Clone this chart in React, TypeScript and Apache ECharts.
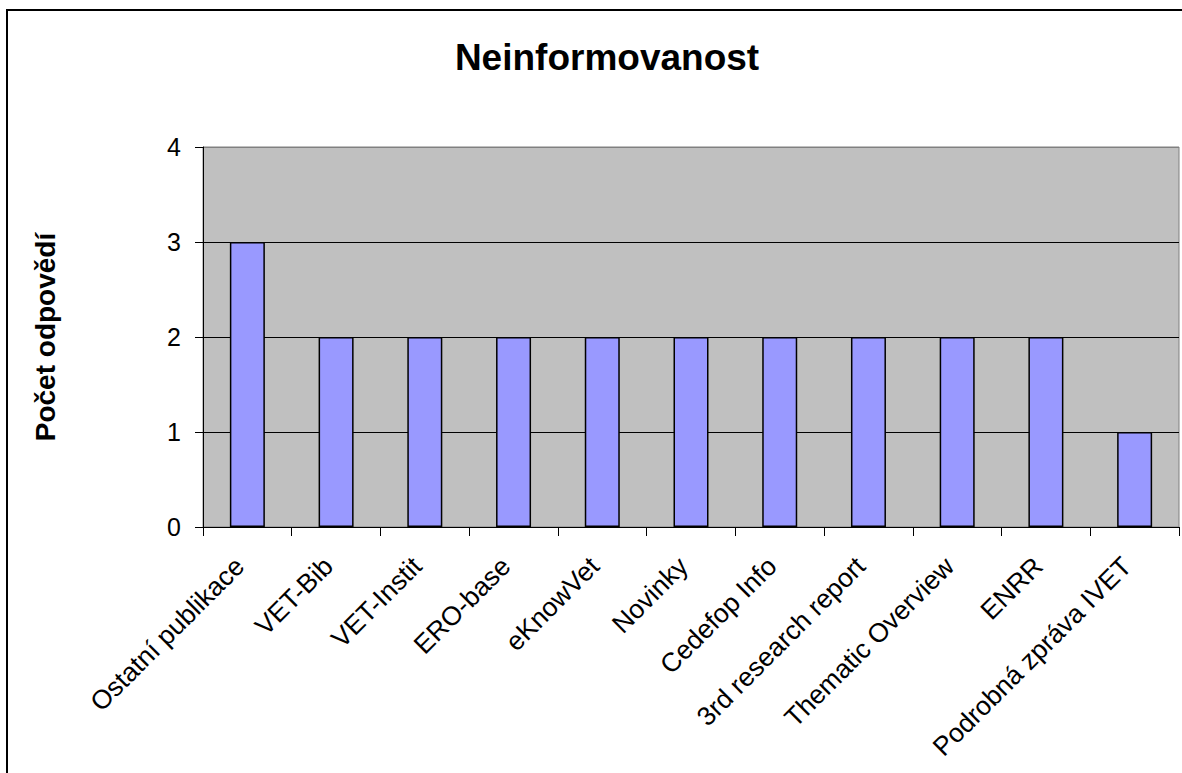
import React, { useEffect, useRef } from "react";
import * as echarts from "echarts";

const categories = [
  "Ostatní publikace",
  "VET-Bib",
  "VET-Instit",
  "ERO-base",
  "eKnowVet",
  "Novinky",
  "Cedefop Info",
  "3rd research report",
  "Thematic Overview",
  "ENRR",
  "Podrobná zpráva IVET",
];
const values = [3, 2, 2, 2, 2, 2, 2, 2, 2, 2, 1];
const titleText = "Neinformovanost";
const yAxisName = "Počet odpovědí";

const FONT = "'Liberation Sans', Arial, Helvetica, sans-serif";

export default function App() {
  const ref = useRef<HTMLDivElement>(null);
  useEffect(() => {
    if (!ref.current) return;
    const chart = echarts.init(ref.current, null, { renderer: "svg" });
    chart.setOption({
      animation: false,
      backgroundColor: "#ffffff",
      title: {
        text: titleText,
        left: 602,
        top: 34,
        textAlign: "center",
        textStyle: { fontFamily: FONT, fontSize: 37, fontWeight: "bold", color: "#000" },
      },
      graphic: [
        {
          type: "rect",
          shape: { x: 7, y: 10, width: 1220, height: 820 },
          style: { fill: "none", stroke: "#000", lineWidth: 2 },
          silent: true,
        },
      ],
      grid: {
        left: 203,
        right: 3,
        top: 147,
        bottom: 246,
        show: true,
        backgroundColor: "#c0c0c0",
        borderColor: "#808080",
        borderWidth: 1,
      },
      xAxis: {
        type: "category",
        data: categories,
        axisLine: { show: true, lineStyle: { color: "#000", width: 1 } },
        axisTick: { show: true, length: 9, lineStyle: { color: "#000" } },
        axisLabel: {
          interval: 0,
          rotate: 45,
          margin: 27,
          padding: [0, 11, 0, 0],
          fontFamily: FONT,
          fontSize: 26.5,
          color: "#000",
        },
        splitLine: { show: false },
      },
      yAxis: {
        type: "value",
        min: 0,
        max: 4,
        interval: 1,
        name: yAxisName,
        nameLocation: "middle",
        nameRotate: 90,
        nameGap: 144,
        nameTextStyle: { fontFamily: FONT, fontSize: 28, fontWeight: "bold", color: "#000" },
        axisLine: { show: true, lineStyle: { color: "#000", width: 1 } },
        axisTick: { show: true, length: 8, lineStyle: { color: "#000" } },
        axisLabel: { margin: 22, fontFamily: FONT, fontSize: 25, color: "#000" },
        splitLine: { show: true, lineStyle: { color: ["#000", "#000", "#000", "#000", "#808080"], width: 1 } },
      },
      series: [
        {
          type: "bar",
          data: values,
          barWidth: 35,
          itemStyle: { color: "#9999ff", borderColor: "#000", borderWidth: 1.5 },
        },
      ],
    });
    return () => chart.dispose();
  }, []);
  return (
    <div
      ref={ref}
      style={{ position: "absolute", left: 0, top: 0, width: 1182, height: 773 }}
    />
  );
}
